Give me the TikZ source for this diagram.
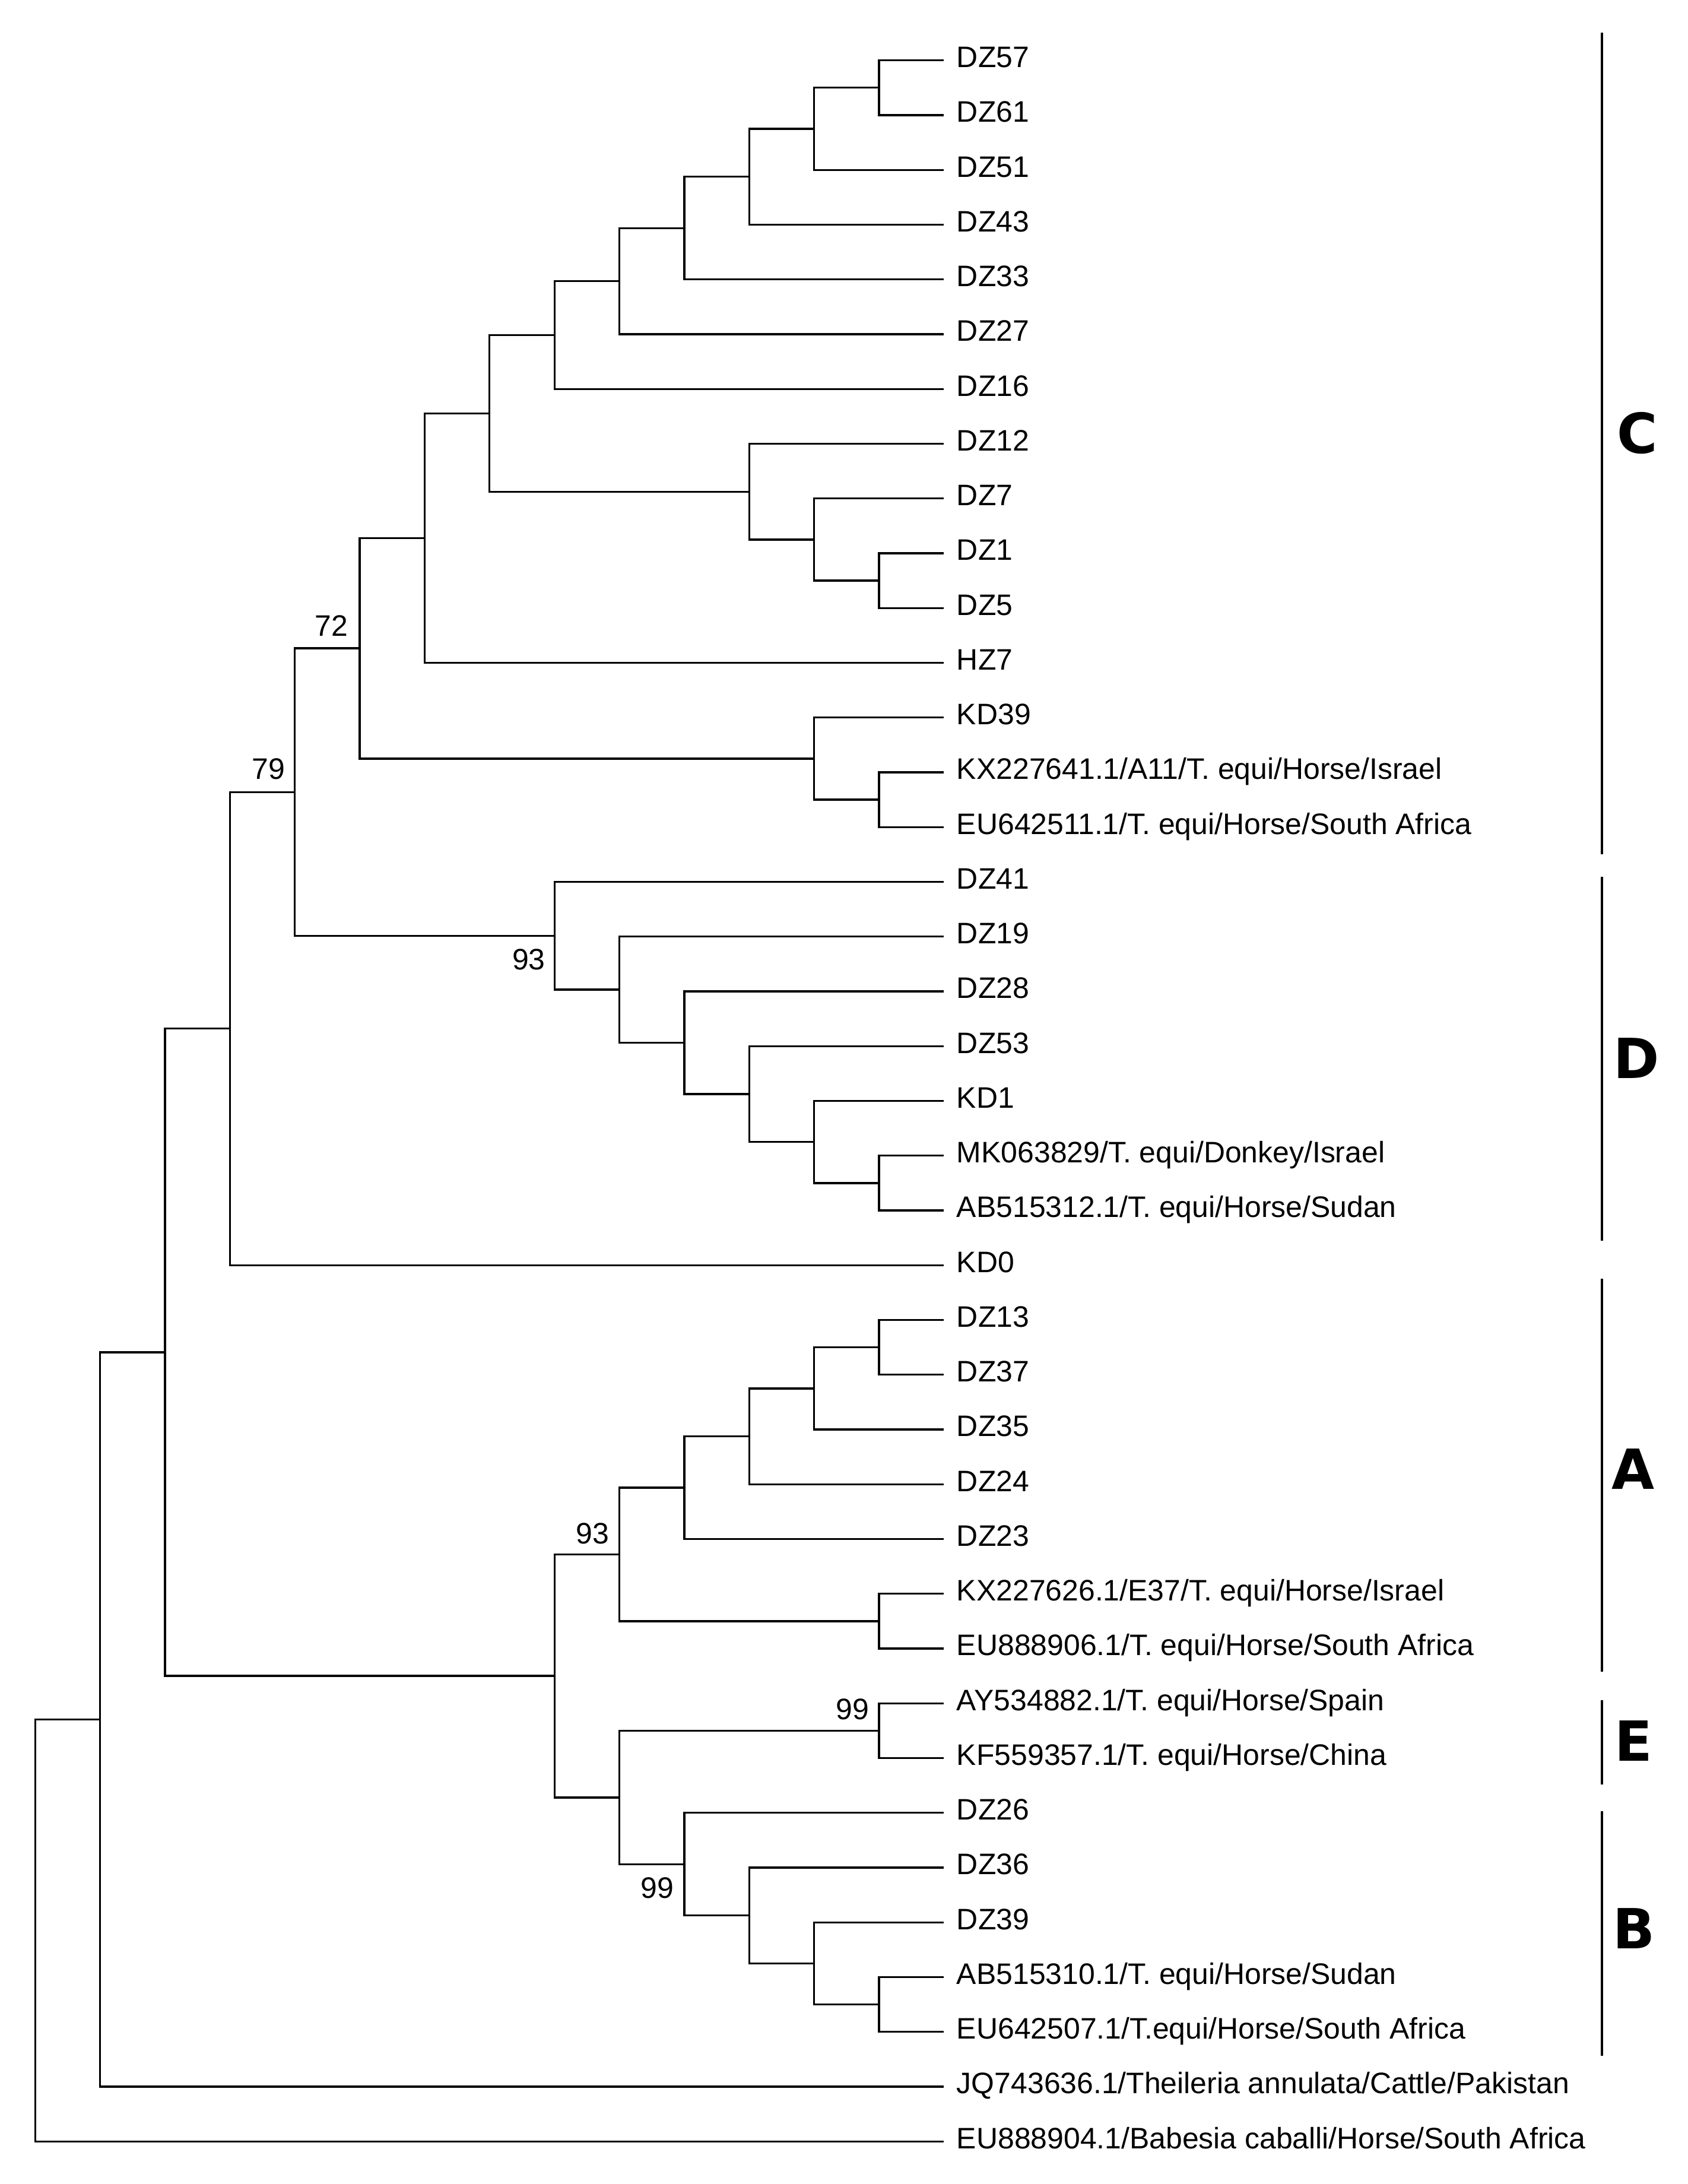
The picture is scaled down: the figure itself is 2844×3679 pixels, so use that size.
\documentclass[tikz,border=0pt]{standalone}
\usepackage{fontspec}
\setmainfont{Liberation Sans}
\newfontfamily\cladefont{DejaVu Sans}
\usetikzlibrary{positioning}

\begin{document}
\begin{tikzpicture}[
      x=0.1mm,y=-0.1mm,line width=0.95pt,
      taxon/.style = {anchor=west,inner xsep=2mm,inner ysep=0,text height=10.2pt,text depth=3.4pt,font=\fontsize{14.2pt}{17pt}\selectfont},
      bsval/.style = {inner sep=0,font=\fontsize{14.2pt}{17pt}\selectfont},
      cladelbl/.style = {inner sep=0,text height=19.3pt,text depth=0pt,font=\cladefont\bfseries\fontsize{26.5pt}{30pt}\selectfont},
      bar/.style = {line width=1.3pt}
    ]
      \useasboundingbox (0,0) rectangle (2844,3679);

      % taxa
      \node (l0)[taxon] at (1590.3,101.7) {DZ57};
      \node (l1)[taxon] at (1590.3,194.0) {DZ61};
      \node (l2)[taxon] at (1590.3,286.2) {DZ51};
      \node (l3)[taxon] at (1590.3,378.5) {DZ43};
      \node (l4)[taxon] at (1590.3,470.7) {DZ33};
      \node (l5)[taxon] at (1590.3,563.0) {DZ27};
      \node (l6)[taxon] at (1590.3,655.2) {DZ16};
      \node (l7)[taxon] at (1590.3,747.5) {DZ12};
      \node (l8)[taxon] at (1590.3,839.7) {DZ7};
      \node (l9)[taxon] at (1590.3,932.0) {DZ1};
      \node (l10)[taxon] at (1590.3,1024.2) {DZ5};
      \node (l11)[taxon] at (1590.3,1116.5) {HZ7};
      \node (l12)[taxon] at (1590.3,1208.7) {KD39};
      \node (l13)[taxon] at (1590.3,1301.0) {KX227641.1/A11/T. equi/Horse/Israel};
      \node (l14)[taxon] at (1590.3,1393.2) {EU642511.1/T. equi/Horse/South Africa};
      \node (l15)[taxon] at (1590.3,1485.5) {DZ41};
      \node (l16)[taxon] at (1590.3,1577.7) {DZ19};
      \node (l17)[taxon] at (1590.3,1670.0) {DZ28};
      \node (l18)[taxon] at (1590.3,1762.2) {DZ53};
      \node (l19)[taxon] at (1590.3,1854.5) {KD1};
      \node (l20)[taxon] at (1590.3,1946.7) {MK063829/T. equi/Donkey/Israel};
      \node (l21)[taxon] at (1590.3,2039.0) {AB515312.1/T. equi/Horse/Sudan};
      \node (l22)[taxon] at (1590.3,2131.2) {KD0};
      \node (l23)[taxon] at (1590.3,2223.5) {DZ13};
      \node (l24)[taxon] at (1590.3,2315.7) {DZ37};
      \node (l25)[taxon] at (1590.3,2408.0) {DZ35};
      \node (l26)[taxon] at (1590.3,2500.2) {DZ24};
      \node (l27)[taxon] at (1590.3,2592.5) {DZ23};
      \node (l28)[taxon] at (1590.3,2684.7) {KX227626.1/E37/T. equi/Horse/Israel};
      \node (l29)[taxon] at (1590.3,2777.0) {EU888906.1/T. equi/Horse/South Africa};
      \node (l30)[taxon] at (1590.3,2869.2) {AY534882.1/T. equi/Horse/Spain};
      \node (l31)[taxon] at (1590.3,2961.5) {KF559357.1/T. equi/Horse/China};
      \node (l32)[taxon] at (1590.3,3053.7) {DZ26};
      \node (l33)[taxon] at (1590.3,3146.0) {DZ36};
      \node (l34)[taxon] at (1590.3,3238.2) {DZ39};
      \node (l35)[taxon] at (1590.3,3330.5) {AB515310.1/T. equi/Horse/Sudan};
      \node (l36)[taxon] at (1590.3,3422.7) {EU642507.1/T.equi/Horse/South Africa};
      \node (l37)[taxon] at (1590.3,3515.0) {JQ743636.1/Theileria annulata/Cattle/Pakistan};
      \node (l38)[taxon] at (1590.3,3607.2) {EU888904.1/Babesia caballi/Horse/South Africa};

      % internal nodes
      \coordinate (c1) at (1481.0,147.8);
      \coordinate (c2) at (1371.6,217.0);
      \coordinate (c3) at (1262.3,297.7);
      \coordinate (c4) at (1152.9,384.2);
      \coordinate (c5) at (1043.5,473.6);
      \coordinate (c6) at (934.2,564.4);
      \coordinate (c7) at (1481.0,978.1);
      \coordinate (c8) at (1371.6,908.9);
      \coordinate (c9) at (1262.3,828.2);
      \coordinate (c10) at (824.8,696.3);
      \coordinate (c11) at (715.5,906.4);
      \coordinate (c12) at (1481.0,1347.1);
      \coordinate (c13) at (1371.6,1277.9);
      \coordinate (c14) at (606.1,1092.1);
      \coordinate (d1) at (1481.0,1992.8);
      \coordinate (d2) at (1371.6,1923.6);
      \coordinate (d3) at (1262.3,1842.9);
      \coordinate (d4) at (1152.9,1756.4);
      \coordinate (d5) at (1043.5,1667.1);
      \coordinate (d6) at (934.2,1576.3);
      \coordinate (cd) at (496.7,1334.2);
      \coordinate (n3) at (387.4,1732.7);
      \coordinate (a1) at (1481.0,2269.6);
      \coordinate (a2) at (1371.6,2338.8);
      \coordinate (a3) at (1262.3,2419.5);
      \coordinate (a4) at (1152.9,2506.0);
      \coordinate (a5) at (1481.0,2730.8);
      \coordinate (a6) at (1043.5,2618.4);
      \coordinate (e1) at (1481.0,2915.3);
      \coordinate (b1) at (1481.0,3376.6);
      \coordinate (b2) at (1371.6,3307.4);
      \coordinate (b3) at (1262.3,3226.7);
      \coordinate (b4) at (1152.9,3140.2);
      \coordinate (eb) at (1043.5,3027.8);
      \coordinate (n8) at (934.2,2823.1);
      \coordinate (n2) at (278.0,2277.9);
      \coordinate (n1) at (168.7,2896.4);
      \coordinate (r0) at (59.3,3251.8);

      % branches
      \draw (c1) |- (l0.west) (c1) |- (l1.west);
      \draw (c2) |- (c1) (c2) |- (l2.west);
      \draw (c3) |- (c2) (c3) |- (l3.west);
      \draw (c4) |- (c3) (c4) |- (l4.west);
      \draw (c5) |- (c4) (c5) |- (l5.west);
      \draw (c6) |- (c5) (c6) |- (l6.west);
      \draw (c7) |- (l9.west) (c7) |- (l10.west);
      \draw (c8) |- (l8.west) (c8) |- (c7);
      \draw (c9) |- (l7.west) (c9) |- (c8);
      \draw (c10) |- (c6) (c10) |- (c9);
      \draw (c11) |- (c10) (c11) |- (l11.west);
      \draw (c12) |- (l13.west) (c12) |- (l14.west);
      \draw (c13) |- (l12.west) (c13) |- (c12);
      \draw (c14) |- (c11) (c14) |- (c13);
      \draw (d1) |- (l20.west) (d1) |- (l21.west);
      \draw (d2) |- (l19.west) (d2) |- (d1);
      \draw (d3) |- (l18.west) (d3) |- (d2);
      \draw (d4) |- (l17.west) (d4) |- (d3);
      \draw (d5) |- (l16.west) (d5) |- (d4);
      \draw (d6) |- (l15.west) (d6) |- (d5);
      \draw (cd) |- (c14) (cd) |- (d6);
      \draw (n3) |- (cd) (n3) |- (l22.west);
      \draw (a1) |- (l23.west) (a1) |- (l24.west);
      \draw (a2) |- (a1) (a2) |- (l25.west);
      \draw (a3) |- (a2) (a3) |- (l26.west);
      \draw (a4) |- (a3) (a4) |- (l27.west);
      \draw (a5) |- (l28.west) (a5) |- (l29.west);
      \draw (a6) |- (a4) (a6) |- (a5);
      \draw (e1) |- (l30.west) (e1) |- (l31.west);
      \draw (b1) |- (l35.west) (b1) |- (l36.west);
      \draw (b2) |- (l34.west) (b2) |- (b1);
      \draw (b3) |- (l33.west) (b3) |- (b2);
      \draw (b4) |- (l32.west) (b4) |- (b3);
      \draw (eb) |- (e1) (eb) |- (b4);
      \draw (n8) |- (a6) (n8) |- (eb);
      \draw (n2) |- (n3) (n2) |- (n8);
      \draw (n1) |- (n2) (n1) |- (l37.west);
      \draw (r0) |- (n1) (r0) |- (l38.west);

      % bootstrap values
      \node (bs72)[bsval,above left=1.9mm and 1.8mm of c14]{72};
      \node (bs79)[bsval,above left=2mm and 1.5mm of cd]{79};
      \node (bs93d)[bsval,below left=2.1mm and 1.4mm of d6]{93};
      \node (bs93a)[bsval,above left=1.6mm and 1.6mm of a6]{93};
      \node (bs99e)[bsval,above left=1.7mm and 1.5mm of e1]{99};
      \node (bs99b)[bsval,below left=2.1mm and 1.6mm of b4]{99};

      % clades
      \draw[bar] (2699,54.5) -- (2699,1438.6);
      \draw[bar] (2699,1477) -- (2699,2089.6);
      \draw[bar] (2699,2154) -- (2699,2816);
      \draw[bar] (2699,2864) -- (2699,3006);
      \draw[bar] (2699,3050.5) -- (2699,3462.8);
      \node (cladeC)[cladelbl] at (2759,730) {C};
      \node (cladeD)[cladelbl] at (2757,1783) {D};
      \node (cladeA)[cladelbl] at (2752,2475) {A};
      \node (cladeE)[cladelbl] at (2752,2933) {E};
      \node (cladeB)[cladelbl] at (2753,3249) {B};
    \end{tikzpicture}
\end{document}
